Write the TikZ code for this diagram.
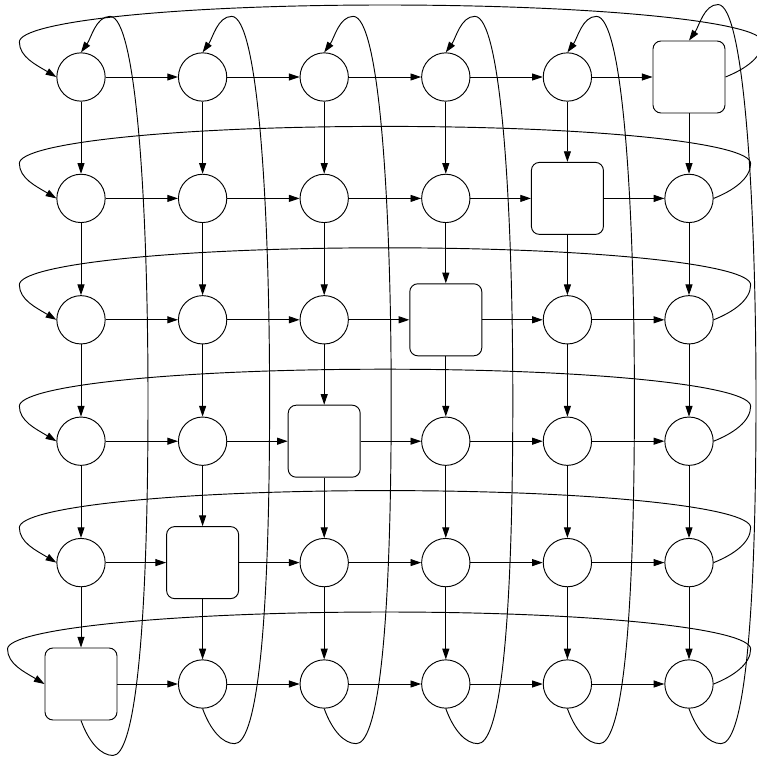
\documentclass[tikz,border=0pt]{standalone}
\usepackage{tikz}
\usetikzlibrary{arrows.meta,calc}

\begin{document}
\begin{tikzpicture}[
        x=0.03cm, y=-0.03cm,
        cell/.style={draw, circle, minimum size=1.45cm, inner sep=0pt, line width=0.8pt},
        blk/.style={draw, rounded corners=0.24cm, minimum size=2.16cm, inner sep=0pt, line width=0.8pt},
        arrow/.style={-{Triangle[length=3.2mm,width=2.1mm]}, line width=0.8pt}
    ]
    \useasboundingbox (0,0) rectangle (756,758);
    % Grade de nós
    \foreach \r in {0,...,5} {
        \foreach \c in {0,...,5} {
            \pgfmathsetmacro\xx{81+121.6*\c}
            \pgfmathsetmacro\yy{77+121.4*\r}
            \pgfmathtruncatemacro\s{\r+\c}
            \ifnum\s=5
                \node[blk] (p\r\c) at (\xx,\yy) {};
            \else
                \node[cell] (p\r\c) at (\xx,\yy) {};
            \fi
        }
    }
    % Setas horizontais e verticais
    \foreach \r in {0,...,5}
        \foreach \c [count=\n] in {0,...,4}
            \draw[arrow] (p\r\c) -- (p\r\n);
    \foreach \c in {0,...,5}
        \foreach \r [count=\n] in {0,...,4}
            \draw[arrow] (p\r\c) -- (p\n\c);
    % Retorno das linhas
    \foreach \r in {0,...,5} {
        \pgfmathsetmacro\yy{77+121.4*\r}
        \draw[arrow] (p\r5.east)
            .. controls ($(p\r5.east)+(20,-8)$) and ($(p\r5.east)+(37,-20)$) .. ($(p\r5.east)+(37,-35)$)
            .. controls ($(p\r5.east)+(37,-55)$) and (600,\yy-72) .. (385,\yy-72)
            .. controls (170,\yy-72) and ($(p\r0.west)+(-37,-55)$) .. ($(p\r0.west)+(-37,-35)$)
            .. controls ($(p\r0.west)+(-37,-20)$) and ($(p\r0.west)+(-20,-12)$) .. (p\r0.west);
    }
    % Retorno das colunas
    \foreach \c in {0,...,5} {
        \pgfmathsetmacro\xx{81+121.6*\c}
        \draw[arrow] (p5\c.south)
            .. controls ($(p5\c.south)+(8,22)$) and ($(p5\c.south)+(20,35)$) .. ($(p5\c.south)+(32,35)$)
            .. controls ($(p5\c.south)+(52,35)$) and (\xx+67,650) .. (\xx+67,400)
            .. controls (\xx+67,200) and ($(p0\c.north)+(55,-36)$) .. ($(p0\c.north)+(29,-36)$)
            .. controls ($(p0\c.north)+(15,-36)$) and ($(p0\c.north)+(10,-14)$) .. (p0\c.north);
    }
\end{tikzpicture}
\end{document}
